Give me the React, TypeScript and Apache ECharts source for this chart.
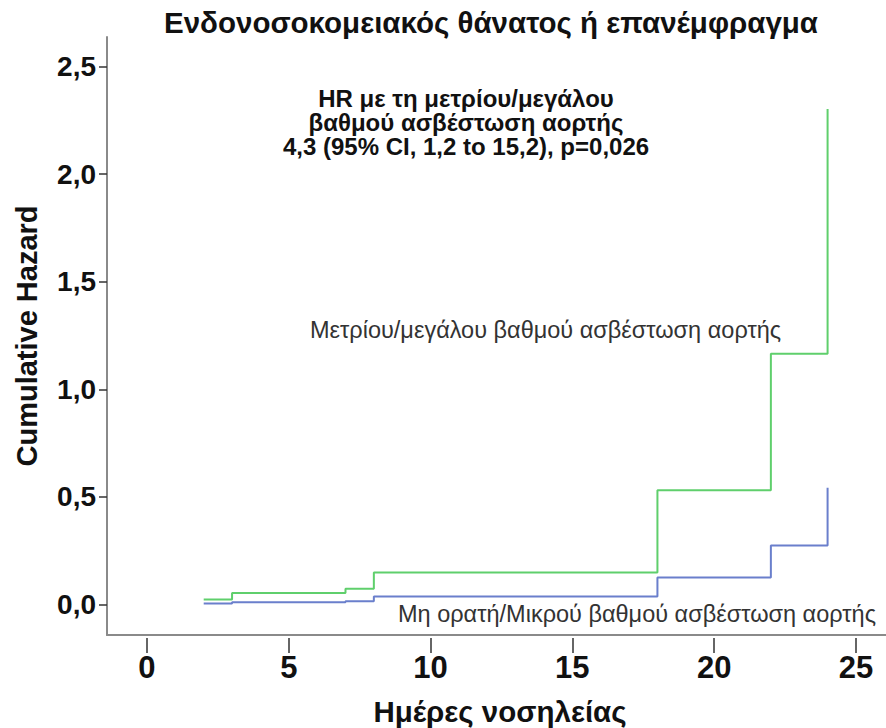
import React, { useEffect, useRef } from "react";
import * as echarts from "echarts";

const titleText = "Ενδονοσοκομειακός θάνατος ή επανέμφραγμα";
const xTitle = "Ημέρες νοσηλείας";
const yTitle = "Cumulative Hazard";
const annotationLines = [
  "HR με τη μετρίου/μεγάλου",
  "βαθμού ασβέστωση αορτής",
  "4,3 (95% CI, 1,2 to 15,2), p=0,026",
];
const seriesNames = [
  "Μετρίου/μεγάλου βαθμού ασβέστωση αορτής",
  "Μη ορατή/Μικρού βαθμού ασβέστωση αορτής",
];
const days = [2, 3, 7, 8, 18, 22, 24];
const hazardHigh = [0.023, 0.053, 0.073, 0.148, 0.531, 1.165, 2.303];
const hazardLow = [0.005, 0.01, 0.015, 0.037, 0.125, 0.274, 0.542];
const xTicks = [0, 5, 10, 15, 20, 25];
const yTicks = [0, 0.5, 1, 1.5, 2, 2.5];

const GREEN = "#5fcf6c";
const BLUE = "#6a7fcc";
const SANS = "'Liberation Sans', Arial, sans-serif";

export default function App() {
  const ref = useRef<HTMLDivElement>(null);
  useEffect(() => {
    if (!ref.current) return;
    const chart = echarts.init(ref.current, null, { renderer: "svg" });
    const xMin = -1.41;
    const xMax = 26.06;
    const yMin = -0.142;
    const yMax = 2.638;
    chart.setOption({
      animation: false,
      backgroundColor: "#ffffff",
      grid: { left: 107, right: 0, top: 37, bottom: 93, containLabel: false },
      xAxis: [
        {
          type: "value",
          min: xMin,
          max: xMax,
          axisLine: { show: true, onZero: false, lineStyle: { color: "#8a8a8a", width: 2 } },
          axisTick: { show: false },
          axisLabel: { show: false },
          splitLine: { show: false },
        },
        {
          type: "value",
          min: xMin,
          max: xMax,
          position: "bottom",
          offset: 3,
          axisLine: { show: false, onZero: false },
          axisTick: {
            show: true,
            inside: false,
            length: 15,
            customValues: xTicks,
            lineStyle: { color: "#333", width: 1.5 },
          },
          axisLabel: {
            show: true,
            customValues: xTicks,
            margin: 14,
            fontFamily: SANS,
            fontWeight: "bold",
            fontSize: 31,
            color: "#111",
          },
          splitLine: { show: false },
        },
      ],
      yAxis: {
        type: "value",
        min: yMin,
        max: yMax,
        name: yTitle,
        nameLocation: "middle",
        nameRotate: 90,
        nameGap: 66,
        nameTextStyle: { fontFamily: SANS, fontWeight: "bold", fontSize: 29, color: "#111" },
        axisLine: { show: true, onZero: false, lineStyle: { color: "#8a8a8a", width: 2 } },
        axisTick: {
          show: true,
          length: 8,
          customValues: yTicks,
          lineStyle: { color: "#333", width: 1.5 },
        },
        axisLabel: {
          show: true,
          customValues: yTicks,
          margin: 11,
          fontFamily: SANS,
          fontWeight: "bold",
          fontSize: 28,
          color: "#111",
          formatter: (v: number) => v.toFixed(1).replace(".", ","),
        },
        splitLine: { show: false },
      },
      series: [
        {
          name: seriesNames[0],
          type: "line",
          step: "end",
          xAxisIndex: 0,
          showSymbol: false,
          symbol: "none",
          lineStyle: { color: GREEN, width: 2 },
          data: days.map((d, i) => [d, hazardHigh[i]]),
        },
        {
          name: seriesNames[1],
          type: "line",
          step: "end",
          xAxisIndex: 0,
          showSymbol: false,
          symbol: "none",
          lineStyle: { color: BLUE, width: 2 },
          data: days.map((d, i) => [d, hazardLow[i]]),
        },
      ],
      graphic: [
        {
          type: "text",
          x: 491,
          y: 22,
          style: {
            text: titleText,
            fontFamily: SANS,
            fontWeight: "bold",
            fontSize: 29.5,
            fill: "#111",
            textAlign: "center",
            textVerticalAlign: "middle",
          },
        },
        {
          type: "text",
          x: 466,
          y: 122,
          style: {
            text: annotationLines.join("\n"),
            fontFamily: SANS,
            fontWeight: "bold",
            fontSize: 24,
            lineHeight: 24,
            fill: "#111",
            textAlign: "center",
            textVerticalAlign: "middle",
          },
        },
        {
          type: "text",
          x: 310,
          y: 330,
          style: {
            text: seriesNames[0],
            fontFamily: SANS,
            fontSize: 23.5,
            fill: "#333",
            textAlign: "left",
            textVerticalAlign: "middle",
          },
        },
        {
          type: "text",
          x: 398,
          y: 614,
          style: {
            text: seriesNames[1],
            fontFamily: SANS,
            fontSize: 23.5,
            fill: "#333",
            textAlign: "left",
            textVerticalAlign: "middle",
          },
        },
        {
          type: "text",
          x: 500,
          y: 711,
          style: {
            text: xTitle,
            fontFamily: SANS,
            fontWeight: "bold",
            fontSize: 29.5,
            fill: "#111",
            textAlign: "center",
            textVerticalAlign: "middle",
          },
        },
      ],
    });
    return () => chart.dispose();
  }, []);
  return <div ref={ref} style={{ width: 886, height: 728, position: "absolute", left: 0, top: 0 }} />;
}
